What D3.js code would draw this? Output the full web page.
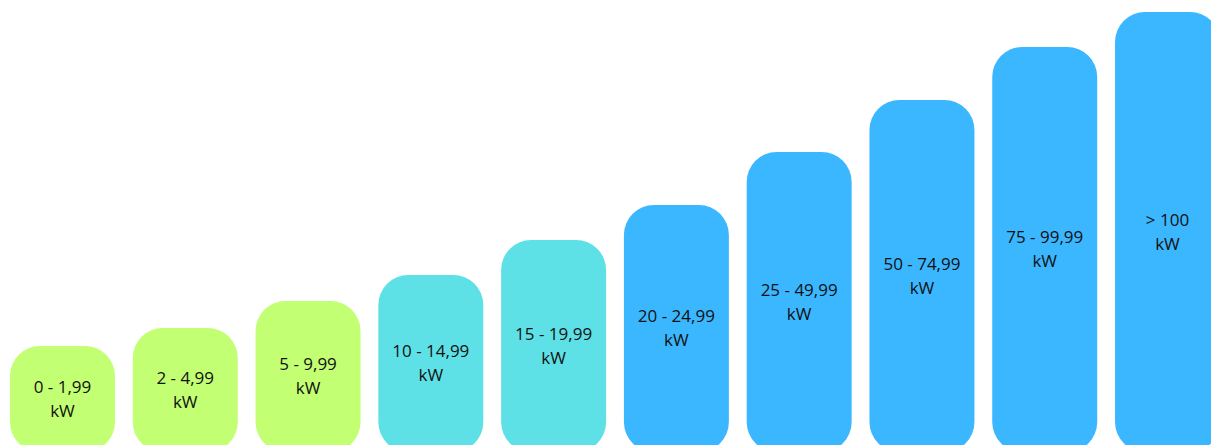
<!DOCTYPE html>
<html>
<head>
<meta charset="utf-8">
<script src="https://cdn.jsdelivr.net/npm/d3@7"></script>
<style>
  html, body { margin: 0; padding: 0; background: #fff; overflow: hidden; }
  svg { display: block; }
  text { font-family: "Open Sans", sans-serif; font-size: 17px; fill: #111; }
</style>
</head>
<body>
<svg id="chart" width="1211" height="445"></svg>
<script>
// Power classes (kW) and their relative bar heights
const categories = ["0 - 1,99", "2 - 4,99", "5 - 9,99", "10 - 14,99", "15 - 19,99",
                    "20 - 24,99", "25 - 49,99", "50 - 74,99", "75 - 99,99", "> 100"];
const values = [106, 124, 151, 177, 212, 247, 300, 352, 405, 440];
const groups = ["small", "small", "small", "mid", "mid", "big", "big", "big", "big", "big"];
const unit = "kW";

const palette = { small: "#c2ff72", mid: "#5ee1e6", big: "#3bb7ff" };

const svg = d3.select("#chart");

const x = d3.scaleBand()
  .domain(categories)
  .range([10, 1220])
  .paddingInner(0.145)
  .paddingOuter(0);

const baseline = 452;
const y = d3.scaleLinear()
  .domain([0, 440])
  .range([baseline, 12]);

const data = categories.map((c, i) => ({ cat: c, value: values[i], group: groups[i] }));

const bar = svg.selectAll("g.bar")
  .data(data)
  .join("g")
  .attr("class", "bar");

bar.append("rect")
  .attr("x", d => x(d.cat))
  .attr("y", d => y(d.value))
  .attr("width", x.bandwidth())
  .attr("height", d => baseline - y(d.value))
  .attr("rx", 30)
  .attr("ry", 30)
  .attr("fill", d => palette[d.group]);

const label = bar.append("text")
  .attr("text-anchor", "middle")
  .attr("x", d => x(d.cat) + x.bandwidth() / 2)
  .attr("y", d => (y(d.value) + baseline) / 2 - 12);

label.append("tspan")
  .attr("x", d => x(d.cat) + x.bandwidth() / 2)
  .attr("dy", "0.35em")
  .text(d => d.cat);

label.append("tspan")
  .attr("x", d => x(d.cat) + x.bandwidth() / 2)
  .attr("dy", 24)
  .text(unit);
</script>
</body>
</html>
